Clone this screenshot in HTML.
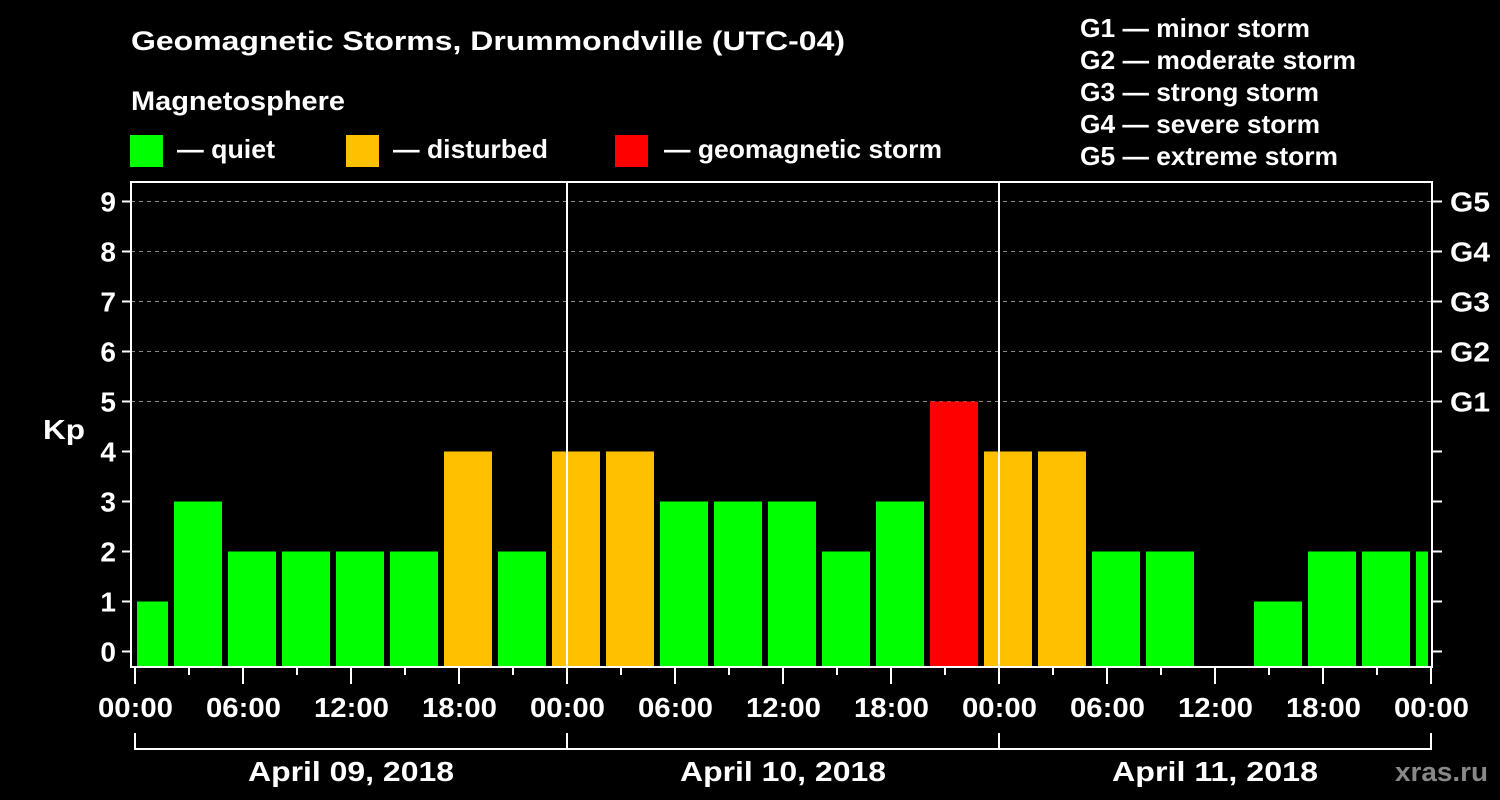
<!DOCTYPE html>
<html><head><meta charset="utf-8"><style>
body{margin:0;background:#000;}
svg{display:block;font-family:"Liberation Sans",Arial,sans-serif;font-weight:bold;}
</style></head><body>
<svg id="chart" width="1500" height="800" viewBox="0 0 1500 800" xmlns="http://www.w3.org/2000/svg">
<rect width="1500" height="800" fill="#000"/>
<text x="131" y="50" fill="#fff" font-size="27" textLength="714" lengthAdjust="spacingAndGlyphs">Geomagnetic Storms, Drummondville (UTC-04)</text>
<text x="131" y="110" fill="#fff" font-size="27" textLength="214" lengthAdjust="spacingAndGlyphs">Magnetosphere</text>
<g><rect x="130" y="135" width="33" height="32" fill="#00ff00"/><text x="177" y="158" fill="#fff" font-size="26" textLength="98" lengthAdjust="spacingAndGlyphs">— quiet</text></g>
<g><rect x="346" y="135" width="33" height="32" fill="#ffc000"/><text x="393" y="158" fill="#fff" font-size="26" textLength="155" lengthAdjust="spacingAndGlyphs">— disturbed</text></g>
<g><rect x="615" y="135" width="33" height="32" fill="#ff0000"/><text x="664" y="158" fill="#fff" font-size="26" textLength="278" lengthAdjust="spacingAndGlyphs">— geomagnetic storm</text></g>
<g fill="#fff" font-size="26" lengthAdjust="spacingAndGlyphs">
<text x="1080" y="37" textLength="230" lengthAdjust="spacingAndGlyphs">G1 — minor storm</text>
<text x="1080" y="69" textLength="276" lengthAdjust="spacingAndGlyphs">G2 — moderate storm</text>
<text x="1080" y="101" textLength="239" lengthAdjust="spacingAndGlyphs">G3 — strong storm</text>
<text x="1080" y="133" textLength="240" lengthAdjust="spacingAndGlyphs">G4 — severe storm</text>
<text x="1080" y="165" textLength="258" lengthAdjust="spacingAndGlyphs">G5 — extreme storm</text>
</g>
<text x="43" y="439" fill="#fff" font-size="28" textLength="42" lengthAdjust="spacingAndGlyphs">Kp</text>
<g id="grid"></g><g id="bars"></g><g id="axes"></g>
<text x="1395" y="781" fill="#888" font-size="27" textLength="93" lengthAdjust="spacingAndGlyphs">xras.ru</text>
</svg>
<script>
const kpValues=[1,3,2,2,2,2,4,2,4,4,3,3,3,2,3,5,4,4,2,2,null,1,2,2,2];
const yTicks=[0,1,2,3,4,5,6,7,8,9];
const gLabels=["G1","G2","G3","G4","G5"];
const hourLabels=["00:00","06:00","12:00","18:00","00:00","06:00","12:00","18:00","00:00","06:00","12:00","18:00","00:00"];
const dayLabels=["April 09, 2018","April 10, 2018","April 11, 2018"];
const NS="http://www.w3.org/2000/svg";
const L=131,R=1432,T=182,B=667,X0=135,PXH=18;
const xH=h=>X0+h*PXH;
const yV=v=>651.5-v*50;
function mk(p,tag,a){const e=document.createElementNS(NS,tag);for(const k in a)e.setAttribute(k,a[k]);p.appendChild(e);return e;}
const grid=document.getElementById('grid'),bars=document.getElementById('bars'),axes=document.getElementById('axes');
yTicks.forEach(v=>{
 if(v>=5){const g=mk(grid,'line',{x1:L,x2:R,y1:yV(v),y2:yV(v),stroke:'#888','stroke-width':1,'stroke-dasharray':'4,4'});
 
 }
 mk(axes,'line',{x1:L-9,x2:L,y1:yV(v),y2:yV(v),stroke:'#fff','stroke-width':2});
 mk(axes,'line',{x1:R,x2:R+10,y1:yV(v),y2:yV(v),stroke:'#fff','stroke-width':2});
 const t=mk(axes,'text',{x:L-15,y:yV(v)+10,fill:'#fff','font-size':28,'text-anchor':'end'});t.textContent=v;
 
 
});
gLabels.forEach((g,i)=>{const t=mk(axes,'text',{x:1450,y:yV(5+i)+10,fill:'#fff','font-size':28,textLength:40,lengthAdjust:'spacingAndGlyphs'});t.textContent=g;
 
 });
kpValues.forEach((v,i)=>{
 if(v===null||v===0)return;
 const start=-1+3*(i);
 let x1=Math.max(xH(start)+3,L+6),x2=Math.min(xH(start+3)-3,R-4);
 const col=v>=5?'#ff0000':(v>=4?'#ffc000':'#00ff00');
 const r=mk(bars,'rect',{x:x1,y:yV(v),width:x2-x1,height:B-yV(v),fill:col});
 
 
});
for(let d=1;d<3;d++){const l=mk(axes,'line',{x1:xH(24*d),x2:xH(24*d),y1:T,y2:B,stroke:'#fff','stroke-width':2});
 
 }
mk(axes,'rect',{x:L,y:T,width:R-L,height:B-T,fill:'none',stroke:'#fff','stroke-width':2});
for(let h=0;h<=72;h+=3){mk(axes,'line',{x1:xH(h),x2:xH(h),y1:B,y2:B+(h%6===0?17:8),stroke:'#fff','stroke-width':2});}
hourLabels.forEach((s,i)=>{const t=mk(axes,'text',{x:xH(i*6)-37,y:717,fill:'#fff','font-size':28,textLength:75,lengthAdjust:'spacingAndGlyphs'});t.textContent=s;
 
 });
mk(axes,'line',{x1:xH(0),x2:xH(72),y1:749,y2:749,stroke:'#fff','stroke-width':2});
for(let d=0;d<=3;d++)mk(axes,'line',{x1:xH(24*d),x2:xH(24*d),y1:733,y2:750,stroke:'#fff','stroke-width':2});
dayLabels.forEach((s,i)=>{const t=mk(axes,'text',{x:xH(24*i+12)-103,y:781,fill:'#fff','font-size':28,textLength:206,lengthAdjust:'spacingAndGlyphs'});t.textContent=s;
 
 });
</script>
</body></html>
